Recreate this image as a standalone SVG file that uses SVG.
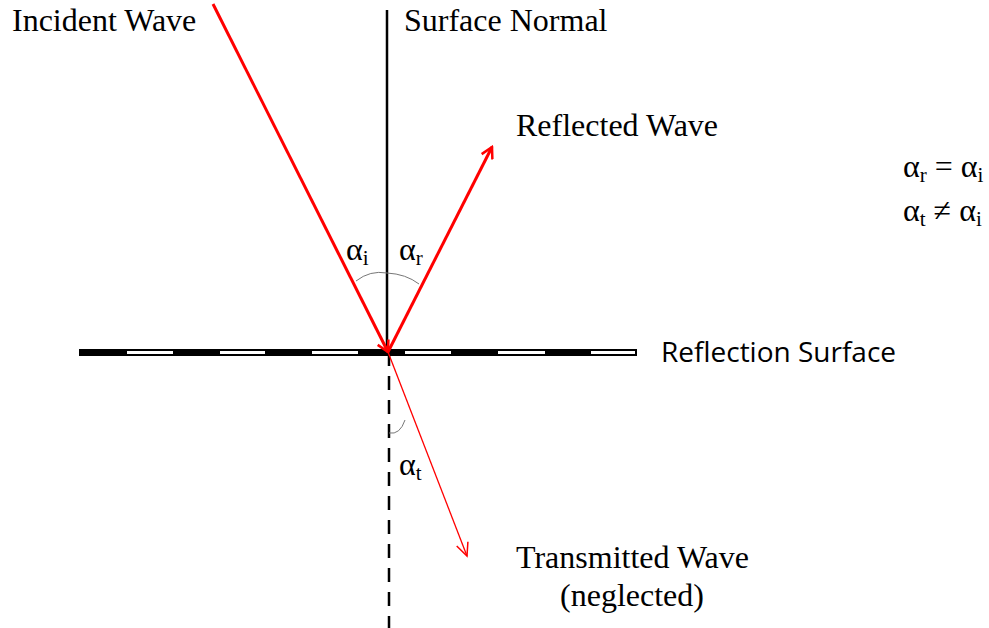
<svg xmlns="http://www.w3.org/2000/svg" width="989" height="628" viewBox="0 0 989 628">
<style>
.t{font-family:"Liberation Serif","Times New Roman",serif;font-size:32px;fill:#000}
.s{font-family:"Open Sans","Liberation Sans",sans-serif;font-size:28px;fill:#000}
.g{font-family:"Liberation Serif","Times New Roman",serif;font-size:32px;fill:#000}
.sub{font-size:21px}
.red{stroke:#ff0000;fill:none}
.arc{stroke:#777;stroke-width:1;fill:none}
</style>
<defs>
<marker id="ah" markerWidth="14" markerHeight="14" refX="12" refY="7" orient="auto" markerUnits="userSpaceOnUse" viewBox="0 0 14 14">
<path d="M1,1 L12,7 L1,13" fill="none" stroke="#ff0000" stroke-width="2.5"/>
</marker>
<marker id="ah2" markerWidth="16" markerHeight="16" refX="14" refY="8" orient="auto" markerUnits="userSpaceOnUse" viewBox="0 0 16 16">
<path d="M1,2 L14,8 L1,14" fill="none" stroke="#ff0000" stroke-width="1.5"/>
</marker>
</defs>
<g id="surface">
<rect x="79" y="349" width="558" height="7" fill="#000"/>
<rect x="127" y="351" width="46" height="3" fill="#fff"/>
<rect x="220" y="351" width="45" height="3" fill="#fff"/>
<rect x="312" y="351" width="46" height="3" fill="#fff"/>
<rect x="405" y="351" width="46" height="3" fill="#fff"/>
<rect x="498" y="351" width="47" height="3" fill="#fff"/>
<rect x="591" y="351" width="44" height="3" fill="#fff"/>
</g>
<g id="normal">
<line x1="387" y1="10" x2="387" y2="352" stroke="#000" stroke-width="2.5"/>
<line x1="389" y1="352" x2="389" y2="628" stroke="#000" stroke-width="2.5" stroke-dasharray="14,10"/>
</g>
<g id="connectors">
<line class="red" x1="213" y1="4" x2="388" y2="352" stroke-width="3" marker-end="url(#ah)"/>
<line class="red" x1="388" y1="352" x2="492" y2="147" stroke-width="3" marker-end="url(#ah)"/>
<line class="red" x1="388" y1="352" x2="467" y2="556" stroke-width="1.3" marker-end="url(#ah2)"/>
</g>
<g id="arcs">
<path class="arc" d="M356,281 Q370,270 387,273 Q406,274 419,284"/>
<path class="arc" d="M389,433 Q400,435 405,420"/>
</g>
<g id="labels">
<text class="t" x="12" y="31">Incident Wave</text>
<text class="t" x="404" y="31">Surface Normal</text>
<text class="t" x="516" y="136">Reflected Wave</text>
<text class="s" x="661" y="362">Reflection Surface</text>
<text class="t" x="516" y="568">Transmitted Wave</text>
<text class="t" x="632" y="606" text-anchor="middle">(neglected)</text>
<text class="g" x="346" y="260">α<tspan class="sub" dy="5">i</tspan></text>
<text class="g" x="399" y="260">α<tspan class="sub" dy="5">r</tspan></text>
<text class="g" x="399" y="475">α<tspan class="sub" dy="5">t</tspan></text>
<text class="g" x="903" y="177">α<tspan class="sub" dy="5">r</tspan><tspan dy="-5"> = α</tspan><tspan class="sub" dy="5">i</tspan></text>
<text class="g" x="903" y="221">α<tspan class="sub" dy="5">t</tspan><tspan dy="-5"> ≠ α</tspan><tspan class="sub" dy="5">i</tspan></text>
</g>
</svg>
